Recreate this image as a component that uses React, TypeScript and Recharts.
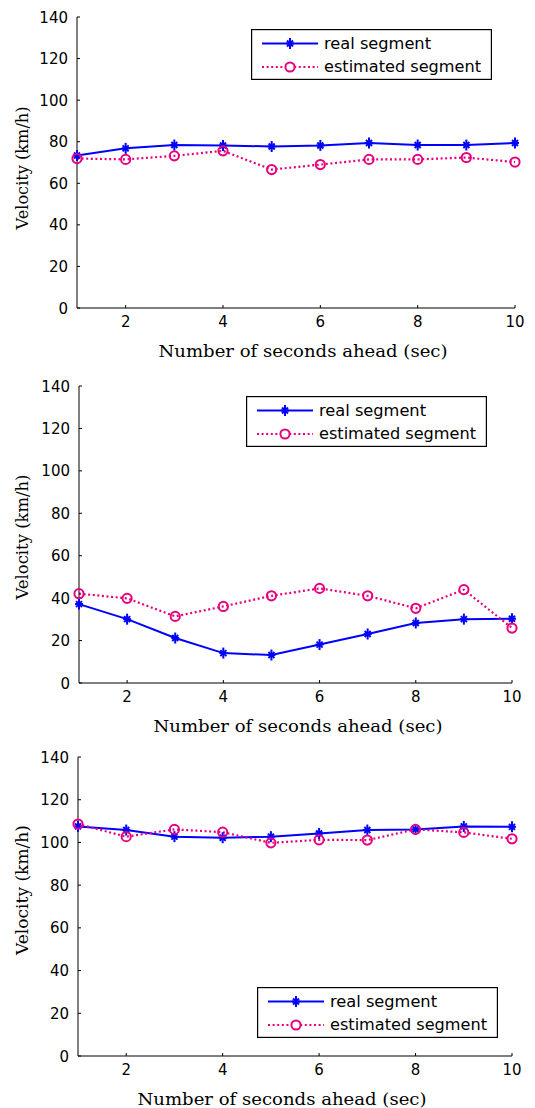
import React from 'react';
import { LineChart, Line, XAxis, YAxis, Legend } from 'recharts';

const seconds = [1, 2, 3, 4, 5, 6, 7, 8, 9, 10];
const xTicks = [2, 4, 6, 8, 10];
const yTicks = [0, 20, 40, 60, 80, 100, 120, 140];
const seriesNames = ['real segment', 'estimated segment'];
const xAxisTitle = 'Number of seconds ahead (sec)';
const yAxisTitle = 'Velocity (km/h)';

const real1 = [73.4, 76.8, 78.4, 78.2, 77.7, 78.2, 79.4, 78.4, 78.4, 79.4];
const est1 = [71.9, 71.5, 73.2, 75.6, 66.6, 69.0, 71.5, 71.5, 72.4, 70.2];
const real2 = [37.2, 30.1, 21.2, 14.1, 13.2, 18.1, 23.1, 28.3, 30.1, 30.3];
const est2 = [42.1, 39.9, 31.4, 36.1, 41.1, 44.6, 41.1, 35.2, 44.0, 25.9];
const real3 = [107.5, 105.8, 102.7, 102.2, 102.7, 104.2, 105.8, 106.1, 107.5, 107.3];
const est3 = [108.6, 102.7, 106.1, 104.8, 99.8, 101.2, 101.1, 106.1, 104.7, 101.7];

const REAL = '#0000FF';
const EST = '#E6007E';
const DASH = '2 2.6';
const SANS = 'DejaVu Sans, Arial, sans-serif';
const SERIF = 'DejaVu Serif, Liberation Serif, serif';

function buildRows(real: number[], est: number[]) {
  return seconds.map((s, i) => ({ s, real: real[i], est: est[i] }));
}

function Star({ cx, cy }: { cx: number; cy: number }) {
  return (
    <g stroke={REAL} strokeWidth={2} fill="none">
      <line x1={cx} y1={cy - 5.5} x2={cx} y2={cy + 5.5} />
      <line x1={cx - 4} y1={cy} x2={cx + 4} y2={cy} />
      <line x1={cx - 3} y1={cy - 3} x2={cx + 3} y2={cy + 3} />
      <line x1={cx - 3} y1={cy + 3} x2={cx + 3} y2={cy - 3} />
    </g>
  );
}

const StarDot = (props: any) => {
  const { cx, cy, index } = props;
  if (cx == null || cy == null) return <g key={index} />;
  return (
    <g key={index}>
      <Star cx={cx} cy={cy} />
    </g>
  );
};

const CircleDot = (props: any) => {
  const { cx, cy, index } = props;
  if (cx == null || cy == null) return <g key={index} />;
  return <circle key={index} cx={cx} cy={cy} r={4.6} fill="none" stroke={EST} strokeWidth={2} />;
};

const renderTick = (anchor: 'middle' | 'end') => (props: any) => {
  const { x, y, payload } = props;
  return (
    <text
      x={x}
      y={anchor === 'middle' ? y + 19 : y + 5.5}
      textAnchor={anchor}
      fontSize={15}
      fontFamily={SANS}
      fill="#000"
    >
      {payload.value}
    </text>
  );
};

function LegendBox() {
  return (
    <svg width={241} height={51} style={{ display: 'block' }}>
      <rect x={0.6} y={0.6} width={239.8} height={49.8} fill="#fff" stroke="#000" strokeWidth={1.2} />
      <line x1={11} y1={14.5} x2={67} y2={14.5} stroke={REAL} strokeWidth={2} />
      <Star cx={39} cy={14.5} />
      <text x={73} y={19.5} fontSize={16} fontFamily={SANS} fill="#000" textLength={107} lengthAdjust="spacingAndGlyphs">
        {seriesNames[0]}
      </text>
      <line x1={11} y1={38} x2={67} y2={38} stroke={EST} strokeWidth={2.2} strokeDasharray={DASH} />
      <circle cx={39} cy={38} r={4.6} fill="#fff" stroke={EST} strokeWidth={2} />
      <text x={73} y={43} fontSize={16} fontFamily={SANS} fill="#000" textLength={157} lengthAdjust="spacingAndGlyphs">
        {seriesNames[1]}
      </text>
    </svg>
  );
}

type PanelProps = {
  top: number;
  height: number;
  margin: { top: number; right: number; bottom: number; left: number };
  xAxisHeight: number;
  real: number[];
  est: number[];
  legendX: number;
  legendY: number;
  xTitleX: number;
  yTitleY: number;
  yTitleLen: number;
};

function Panel(p: PanelProps) {
  const rows = buildRows(p.real, p.est);
  const xLabel = (props: any) => {
    const vb = props.viewBox || { y: 0 };
    return (
      <text
        x={p.xTitleX}
        y={vb.y + 49}
        textAnchor="middle"
        fontSize={17}
        fontFamily={SERIF}
        fill="#000"
        textLength={289}
        lengthAdjust="spacingAndGlyphs"
      >
        {xAxisTitle}
      </text>
    );
  };
  const yLabel = () => (
    <text
      x={22}
      y={p.yTitleY}
      transform={`rotate(-90 22 ${p.yTitleY})`}
      textAnchor="middle"
      dominantBaseline="central"
      fontSize={16}
      fontFamily={SERIF}
      fill="#000"
      textLength={p.yTitleLen}
      lengthAdjust="spacingAndGlyphs"
    >
      {yAxisTitle}
    </text>
  );
  return (
    <div style={{ position: 'absolute', left: 0, top: p.top, width: 535, height: p.height }}>
      <LineChart width={535} height={p.height} data={rows} margin={p.margin} style={{ background: '#fff' }}>
        <XAxis
          xAxisId="b"
          dataKey="s"
          type="number"
          domain={[1, 10]}
          ticks={xTicks}
          height={p.xAxisHeight}
          tickSize={-3}
          tickMargin={3}
          stroke="#000"
          tick={renderTick('middle')}
          label={{ content: xLabel }}
        />
        <XAxis
          xAxisId="t"
          orientation="top"
          dataKey="s"
          type="number"
          domain={[1, 10]}
          ticks={xTicks}
          height={0}
          tickSize={-3}
          tick={false}
          stroke="#000"
        />
        <YAxis
          yAxisId="l"
          type="number"
          domain={[0, 140]}
          ticks={yTicks}
          width={60}
          tickSize={-3}
          tickMargin={12}
          stroke="#000"
          tick={renderTick('end')}
          label={{ content: yLabel }}
        />
        <YAxis
          yAxisId="r"
          orientation="right"
          type="number"
          domain={[0, 140]}
          ticks={yTicks}
          width={0}
          tickSize={-3}
          tick={false}
          stroke="#000"
        />
        <Line
          xAxisId="b"
          yAxisId="l"
          dataKey="real"
          name={seriesNames[0]}
          stroke={REAL}
          strokeWidth={2}
          dot={StarDot}
          activeDot={false}
          isAnimationActive={false}
        />
        <Line
          xAxisId="b"
          yAxisId="l"
          dataKey="est"
          name={seriesNames[1]}
          stroke={EST}
          strokeWidth={2.2}
          strokeDasharray={DASH}
          dot={CircleDot}
          activeDot={false}
          isAnimationActive={false}
        />
        <Legend
          layout="vertical"
          align="center"
          verticalAlign="middle"
          width={241}
          height={51}
          content={() => <LegendBox />}
          wrapperStyle={{ left: p.legendX, top: p.legendY, width: 241, height: 51, right: 'auto', bottom: 'auto', margin: 0, padding: 0 }}
        />
      </LineChart>
    </div>
  );
}

export default function App() {
  return (
    <div style={{ position: 'absolute', left: 0, top: 0, width: 535, height: 1108, background: '#fff' }}>
      <Panel
        top={0}
        height={370}
        margin={{ top: 17, right: 20, bottom: 2, left: 17 }}
        xAxisHeight={60}
        real={real1}
        est={est1}
        legendX={251}
        legendY={29}
        xTitleX={303}
        yTitleY={168}
        yTitleLen={123}
      />
      <Panel
        top={370}
        height={370}
        margin={{ top: 16, right: 23, bottom: 2, left: 19 }}
        xAxisHeight={55}
        real={real2}
        est={est2}
        legendX={246}
        legendY={26}
        xTitleX={298}
        yTitleY={167}
        yTitleLen={125}
      />
      <Panel
        top={740}
        height={368}
        margin={{ top: 17, right: 23, bottom: 2, left: 18 }}
        xAxisHeight={50}
        real={real3}
        est={est3}
        legendX={257}
        legendY={247}
        xTitleX={282}
        yTitleY={150}
        yTitleLen={130}
      />
    </div>
  );
}
